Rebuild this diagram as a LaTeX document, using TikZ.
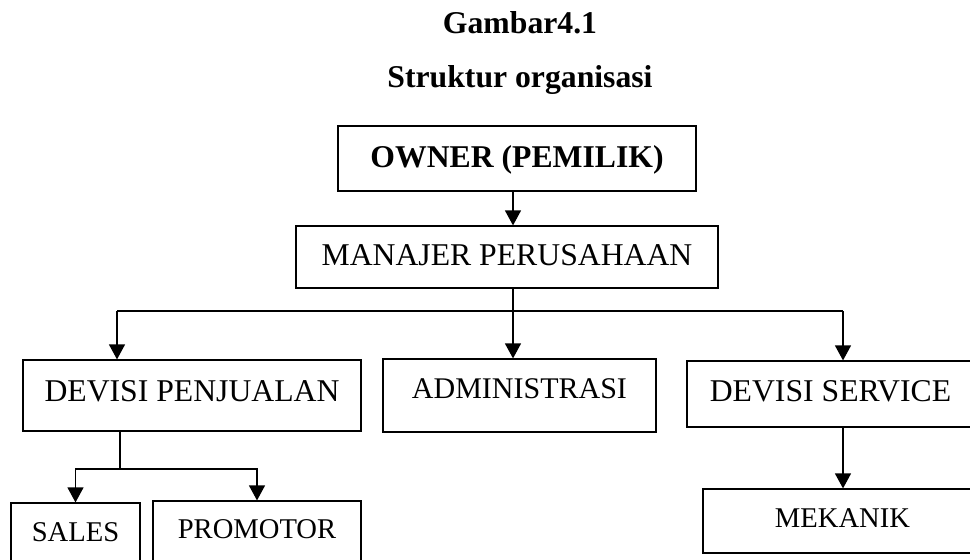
\documentclass[tikz,border=0pt]{standalone}
\usepackage{fontspec}
\setmainfont{Liberation Serif}
\usetikzlibrary{arrows.meta}

\begin{document}
\begin{tikzpicture}[x=1pt,y=-1pt,
  big/.style={font=\fontsize{31.7}{38}\selectfont,text height=21pt},
  head/.style={font=\fontsize{31.7}{38}\selectfont\bfseries,text height=21.4pt},
  mid/.style={font=\fontsize{30}{36}\selectfont,text height=20pt},
  small/.style={font=\fontsize{28.6}{34}\selectfont,text height=19pt},
  box/.style={draw,line width=1.2pt,inner sep=0pt},
  line/.style={line width=1.2pt},
  arr/.style={line width=1.2pt,-{Triangle[width=16pt,length=15pt]}}]

\clip (0,0) rectangle (970,560);

\node[head,anchor=base] (gbr) at (520,33) {Gambar4.1};
\node[head,anchor=base] (judul) at (520,87) {Struktur organisasi};

\node[box,head,minimum width=358pt,minimum height=65pt,text depth=3pt] (owner) at (517,158.5) {OWNER (PEMILIK)};
\node[box,big,minimum width=422pt,minimum height=62pt,text depth=5pt] (manajer) at (507,257) {MANAJER PERUSAHAAN};
\node[box,big,minimum width=338pt,minimum height=71pt,text depth=10pt] (pen) at (192,395.5) {DEVISI PENJUALAN};
\node[box,mid,minimum width=273pt,minimum height=73pt,text depth=14pt] (admin) at (519.5,395.5) {ADMINISTRASI};
\node[box,big,minimum width=287pt,minimum height=66pt,text depth=7pt] (service) at (830.5,394) {DEVISI SERVICE};
\node[box,small,minimum width=129pt,minimum height=67pt,text depth=10pt] (sales) at (75.5,536.5) {SALES};
\node[box,small,minimum width=208pt,minimum height=69pt,text depth=13pt] (promotor) at (257,535.5) {PROMOTOR};
\node[box,small,minimum width=279pt,minimum height=64pt,text depth=7pt] (mekanik) at (842.5,521) {MEKANIK};

\coordinate (hub) at (513,311);
\coordinate (hubL) at (117,311);
\coordinate (hubR) at (843,311);
\coordinate (sub) at (120,469);

\draw[arr] (owner.south -| hub) -- (hub |- manajer.north);
\draw[line] (manajer.south -| hub) -- (hub);
\draw[line] (hubL) -- (hubR);
\draw[arr] (hub) -- (hub |- admin.north);
\draw[arr] (hubL) -- (hubL |- pen.north);
\draw[arr] (hubR) -- (hubR |- service.north);
\draw[arr] (hubR |- service.south) -- (hubR |- mekanik.north);

\draw[line] (pen.south -| sub) -- (sub);
\draw[arr] (sub) -| (sales.north);
\draw[arr] (sub) -| (promotor.north);
\end{tikzpicture}
\end{document}
